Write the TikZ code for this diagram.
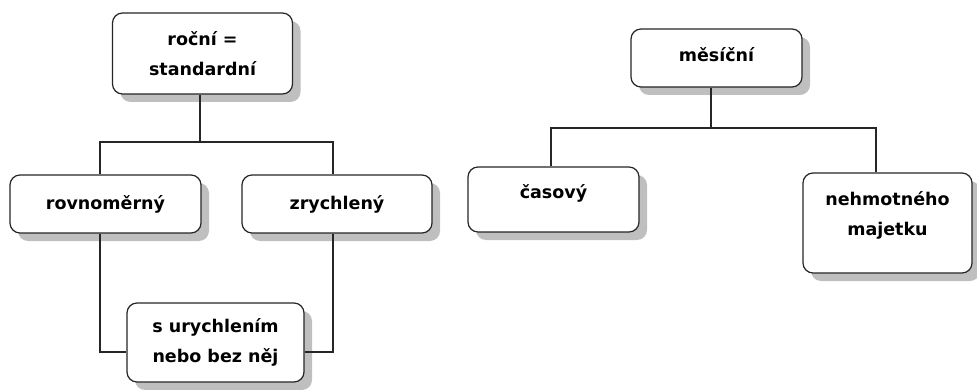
\documentclass[tikz,border=0pt]{standalone}
\usepackage{fontspec}
\setmainfont{DejaVu Sans}
\usetikzlibrary{shadows}
\begin{document}
\begin{tikzpicture}[x=1pt,y=1pt,
  box/.style={draw=black!85, line width=1.2pt, rounded corners=10pt, fill=white,
    drop shadow={shadow xshift=8pt, shadow yshift=-8pt, fill=black!25, opacity=1},
    align=center, inner sep=0pt, font=\bfseries\fontsize{17.5}{30}\selectfont},
  conn/.style={draw=black!85, line width=1.2pt},
  txt/.style={align=center, inner sep=0pt, font=\bfseries\fontsize{17.5}{30}\selectfont}]
\useasboundingbox (0,0) rectangle (977,-390);
% left tree
\node[box, minimum width=180pt, minimum height=81pt] (roc) at (202.5,-53.5) {roční =\\standardní};
\node[box, minimum width=191pt, minimum height=58pt] (rov) at (105.5,-204) {rovnoměrný};
\node[box, minimum width=190pt, minimum height=58pt] (zry) at (337,-204) {zrychlený};
\node[box, minimum width=177pt, minimum height=79pt] (sur) at (215.5,-342.5) {s urychlením\\nebo bez něj};
\coordinate (j1) at (200,-142);
\draw[conn] (roc.south -| j1) -- (j1);
\draw[conn] (j1) -| ([xshift=-5.5pt]rov.north);
\draw[conn] (j1) -| ([xshift=-4pt]zry.north);
\draw[conn] ([xshift=-5.5pt]rov.south) |- ([yshift=-9.5pt]sur.west);
\draw[conn] ([xshift=-4pt]zry.south) |- ([yshift=-9.5pt]sur.east);
% right tree
\node[box, minimum width=171pt, minimum height=58pt] (mes) at (716.5,-58) {};
\node[txt] (mest) at (716.5,-55) {měsíční};
\node[box, minimum width=171pt, minimum height=65pt] (cas) at (553.5,-199.5) {};
\node[txt] (cast) at (553.5,-193) {časový};
\node[box, minimum width=169pt, minimum height=100pt] (neh) at (887.5,-223) {};
\node[txt] (neht) at (887.5,-215.5) {nehmotného\\majetku};
\coordinate (j2) at (711,-128);
\draw[conn] ([xshift=-5.5pt]mes.south) -- (j2);
\draw[conn] (j2) -| ([xshift=-2.5pt]cas.north);
\draw[conn] (j2) -| ([xshift=-11.5pt]neh.north);
\end{tikzpicture}
\end{document}
